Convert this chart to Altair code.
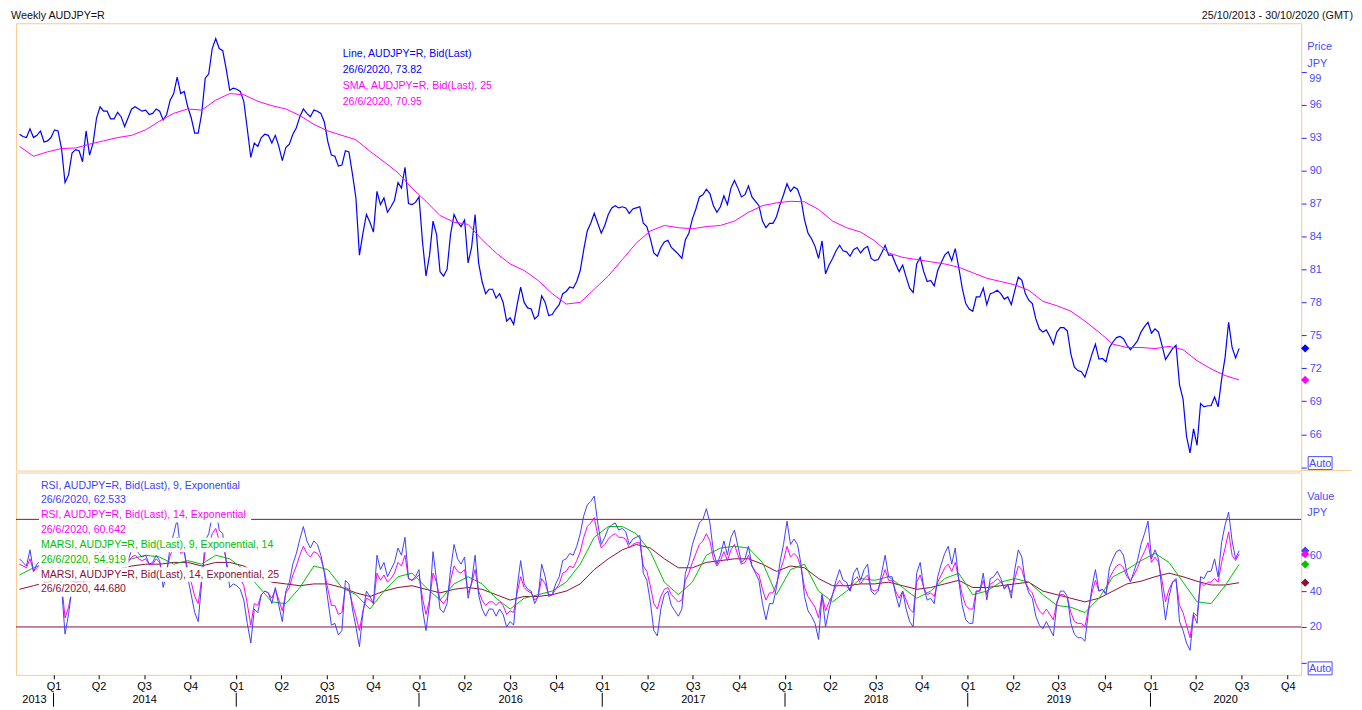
import altair as alt
import pandas as pd

FIRST_WEEK = "2013-10-25"

# weekly close, AUDJPY=R
PRICE = [
    93.3, 93.1, 93.0, 93.8, 93.0, 93.2, 93.6, 92.6, 92.7, 93.0, 93.7, 93.6, 92.0,
    88.9, 89.6, 91.6, 91.9, 91.8, 90.8, 93.6, 91.4, 92.5, 94.8, 95.8, 95.4, 95.4,
    94.7, 94.7, 95.3, 94.9, 94.0, 94.8, 95.6, 95.8, 95.6, 95.4, 95.5, 95.1, 95.2,
    95.6, 95.4, 94.6, 95.1, 96.4, 97.0, 98.5, 97.0, 97.2, 95.8, 94.8, 93.4, 93.4,
    95.2, 98.4, 98.8, 101.1, 102.0, 101.1, 100.9, 99.2, 97.3, 97.5, 97.4, 97.2,
    96.3, 93.8, 91.2, 92.5, 92.2, 93.0, 93.3, 93.2, 92.5, 93.2, 92.2, 90.9, 92.1,
    92.4, 93.3, 93.9, 94.9, 95.6, 95.2, 94.9, 95.5, 95.4, 95.2, 94.4, 92.6, 91.4,
    91.3, 90.4, 90.5, 91.8, 91.7, 89.7, 87.5, 82.3, 84.3, 86.0, 85.3, 84.4, 88.1,
    86.9, 87.5, 86.2, 86.7, 87.3, 88.9, 88.4, 90.3, 87.0, 86.9, 87.1, 87.6, 83.5,
    80.4, 82.3, 85.4, 84.2, 80.8, 80.4, 81.0, 84.2, 86.0, 85.3, 84.9, 85.5, 81.6,
    83.0, 86.0, 81.6, 79.9, 78.8, 79.2, 79.2, 78.4, 78.8, 78.0, 76.3, 76.6, 76.0,
    77.8, 79.4, 78.0, 77.5, 77.4, 76.5, 76.8, 78.6, 78.0, 76.8, 76.9, 77.4, 77.8,
    78.8, 79.0, 79.4, 79.3, 79.9, 80.9, 82.8, 84.5, 85.2, 86.1, 85.2, 84.3, 85.0,
    86.0, 86.6, 86.8, 86.6, 86.7, 86.6, 86.1, 86.5, 86.6, 86.7, 85.2, 84.9, 83.8,
    82.5, 82.2, 83.0, 83.5, 83.65, 83.0, 82.7, 82.4, 82.0, 83.7, 84.3, 85.6, 86.5,
    87.6, 87.8, 88.3, 87.9, 86.8, 86.2, 86.7, 87.7, 86.9, 88.4, 89.1, 88.4, 87.6,
    87.8, 88.6, 87.6, 87.2, 86.8, 85.4, 84.8, 85.2, 85.2, 85.8, 86.9, 87.8, 88.8,
    88.1, 88.5, 88.3, 87.4, 85.5, 84.3, 83.8, 83.1, 82.0, 83.6, 80.6, 81.4, 82.0,
    82.7, 83.2, 82.7, 82.6, 82.2, 82.8, 83.0, 82.5, 82.9, 83.1, 82.0, 81.8, 81.9,
    82.5, 83.2, 82.3, 82.3, 81.5, 80.8, 81.4, 80.3, 79.3, 78.9, 81.5, 82.1, 80.8,
    79.9, 80.0, 79.5, 80.9, 81.6, 82.3, 82.6, 81.8, 82.9, 81.2, 79.3, 77.9, 77.4,
    77.2, 78.5, 78.5, 79.3, 77.8, 78.8, 78.9, 79.1, 78.8, 78.3, 78.5, 77.8, 79.1,
    80.3, 80.0, 78.8, 78.2, 77.9, 76.5, 75.6, 75.3, 75.5, 74.9, 74.2, 75.3, 75.7,
    75.7, 75.4, 73.3, 72.1, 71.8, 71.7, 71.2, 72.2, 73.3, 74.2, 72.85, 72.9, 72.6,
    73.9, 74.4, 74.8, 74.9, 74.7, 74.1, 73.7, 74.1, 74.5, 75.3, 75.8, 76.2, 75.2,
    75.6, 75.3, 74.1, 72.8, 73.3, 73.8, 74.1, 70.5, 69.2, 65.8, 64.3, 66.5, 65.0,
    68.8, 68.5, 68.6, 68.6, 69.4, 68.5, 71.0, 73.0, 76.2, 73.9, 72.95, 73.82,
]

# 25-week SMA, read every 4th week
SMA25 = [
    92.2, 91.3, 91.7, 92.0, 92.05, 92.4, 92.7, 93.0, 93.2, 93.7, 94.5, 95.2, 95.6,
    95.5, 96.4, 97.0, 96.9, 96.3, 95.9, 95.6, 95.0, 94.2, 93.6, 93.2, 92.8, 91.75,
    90.8, 89.8, 88.4, 87.2, 85.9, 85.3, 85.1, 83.7, 82.5, 81.5, 80.9, 80.0, 78.8,
    77.85, 78.0, 79.2, 80.4, 81.9, 83.4, 84.5, 85.0, 84.8, 84.7, 84.9, 85.0, 85.4,
    86.2, 86.8, 87.06, 87.2, 87.15, 86.46, 85.4, 84.8, 84.4, 83.6, 82.5, 82.1, 81.9,
    81.7, 81.5, 81.2, 80.7, 80.2, 79.9, 79.6, 79.1, 78.1, 77.7, 77.2, 76.3, 75.3,
    74.2, 73.9, 73.9, 73.8, 74.0, 73.7, 72.7, 71.95, 71.35, 70.95,
]

# RSI 9 (weekly)
RSI9 = [
    58, 56, 54, 63, 51, 55, 57, 45, 47, 51, 60, 58, 42,
    16, 27, 42, 45, 44, 38, 58, 45, 52, 64, 68, 64, 64,
    57, 57, 62, 58, 49, 57, 63, 64, 61, 59, 60, 55, 56,
    60, 57, 42, 50, 65, 72, 80, 62, 63, 48, 38, 28, 23,
    45, 68, 72, 82, 86, 74, 72, 56, 42, 44, 43, 41, 35,
    22, 11, 30, 28, 38, 40, 39, 33, 42, 32, 23, 40, 45,
    55, 61, 69, 76, 68, 64, 68, 66, 60, 50, 35, 21, 22,
    15.5, 18, 46, 44, 30, 20, 9, 28, 40, 37, 33, 60, 52,
    56, 48, 52, 56, 64, 60, 70, 47, 46, 48, 52, 30, 18,
    33, 62, 46, 30, 28, 33, 52, 66, 58, 55, 59, 36, 45,
    60, 38, 30, 26, 30, 30, 26, 30, 27, 20, 23, 21, 42,
    57, 44, 41, 40, 33, 37, 55, 48, 37, 38, 44, 48, 57,
    58, 61, 60, 65, 72, 82, 88, 90, 93, 78, 66, 70, 75,
    77, 78, 74, 75, 73, 66, 69, 70, 71, 50, 46, 34, 18,
    15, 30, 38, 40, 32, 29, 26, 30, 50, 56, 66, 72, 78,
    80, 86, 78, 62, 55, 60, 68, 60, 70, 74, 65, 56, 58,
    65, 54, 50, 46, 33, 24, 33, 33, 42, 56, 66, 79, 66,
    69, 66, 55, 37, 29, 26, 22, 13, 38, 20, 30, 38, 46,
    52, 46, 45, 40, 50, 53, 46, 52, 55, 40, 38, 40, 50,
    60, 48, 48, 38, 31, 40, 30, 23, 20, 50, 56, 42, 35,
    36, 33, 48, 55, 61, 65, 55, 64, 46, 32, 24, 22, 22,
    40, 40, 50, 35, 47, 48, 51, 47, 41, 44, 36, 52, 63,
    59, 45, 39, 36, 26, 21, 19, 23, 19, 15, 33, 40, 40,
    37, 22, 16, 14, 14, 12, 28, 42, 52, 40, 41, 38, 53,
    58, 62, 63, 60, 50, 45, 51, 57, 66, 72, 79, 58, 63,
    58, 40, 24, 37, 45, 47, 23, 18, 11, 7, 27, 22, 48,
    47, 51, 51, 58, 48, 67, 77, 84, 68, 58, 62.533,
]

# RSI 14 (weekly)
RSI14 = [
    55, 54, 53, 58, 51, 53, 55, 47, 48, 50, 56, 55, 45,
    25, 31, 41, 43, 43, 39, 52, 45, 49, 58, 62, 60, 60,
    56, 56, 59, 57, 52, 56, 59, 60, 58, 57, 58, 55, 55,
    58, 56, 48, 52, 60, 64, 70, 61, 62, 52, 45, 37, 33,
    47, 62, 65, 72, 75, 68, 67, 57, 48, 49, 48, 47, 43,
    33, 21, 33, 32, 38, 40, 39, 36, 41, 35, 29, 39, 42,
    49, 54, 60, 65, 61, 59, 62, 61, 58, 51, 41, 32, 32,
    27, 28, 42, 41, 33, 26, 18, 29, 36, 35, 33, 50, 46,
    49, 45, 47, 50, 56, 54, 60, 47, 46, 47, 49, 36, 27,
    35, 50, 45, 35, 33, 36, 46, 54, 51, 50, 52, 39, 44,
    52, 40, 35, 32, 34, 34, 32, 34, 32, 27, 29, 28, 39,
    48, 42, 40, 39, 35, 37, 47, 44, 38, 38, 41, 44, 50,
    51, 54, 53, 57, 62, 70, 76, 78, 81, 71, 64, 66, 69,
    71, 72, 70, 70, 69, 64, 66, 67, 67, 54, 51, 43, 33,
    30, 37, 41, 42, 38, 36, 34, 35, 46, 50, 56, 61, 66,
    68, 72, 68, 58, 54, 57, 62, 57, 63, 66, 60, 55, 56,
    60, 54, 51, 49, 41, 35, 39, 39, 44, 51, 57, 65, 59,
    61, 59, 53, 42, 37, 34, 31, 25, 38, 29, 34, 38, 43,
    46, 43, 43, 40, 46, 48, 44, 47, 49, 41, 40, 41, 46,
    52, 46, 46, 40, 36, 40, 35, 30, 28, 45, 49, 42, 38,
    39, 37, 45, 49, 53, 55, 51, 56, 47, 38, 32, 30, 30,
    40, 40, 46, 38, 44, 45, 47, 45, 42, 43, 39, 47, 54,
    52, 45, 41, 39, 33, 29, 27, 30, 27, 24, 34, 38, 38,
    36, 28, 23, 22, 22, 20, 30, 39, 46, 40, 41, 39, 47,
    51, 54, 55, 53, 48, 46, 49, 53, 58, 62, 67, 56, 59,
    56, 46, 34, 41, 45, 46, 32, 28, 21, 14, 28, 26, 45,
    43, 45, 45, 47, 45, 56, 64, 73, 60, 57, 60.642,
]

# MA of RSI 9 (14) and MA of RSI 14 (25), read every 4th week
MARSI9 = [
    49, 53, 56, 54, 45, 46, 52, 56, 58, 60,
    59, 55, 57, 55, 60, 58, 52, 43, 34, 33,
    42, 54, 52, 42, 38, 30, 40, 48, 50, 42,
    35, 44, 48, 44, 36, 30, 36, 38, 40, 45,
    55, 70, 76, 76, 72, 62, 45, 38, 45, 60,
    64, 65, 64, 56, 38, 52, 55, 40, 34, 40,
    47, 46, 48, 42, 36, 40, 47, 50, 38, 40,
    45, 47, 45, 38, 32, 31, 28, 36, 48, 52,
    57, 61, 56, 45, 34, 33, 43, 54.919,
]
MARSI14 = [
    41, 43, 45, 47, 45, 46, 49, 52, 54, 55,
    55, 56, 56, 54, 56, 56, 54, 50, 45, 44,
    43, 44, 44, 42, 39, 37, 40, 42, 43, 41,
    39, 41, 42, 41, 38, 35, 37, 37, 38, 40,
    44, 52, 58, 63, 66, 64, 58, 53, 53, 56,
    57, 58, 58, 55, 51, 54, 53, 47, 43, 43,
    44, 44, 45, 43, 41, 42, 44, 46, 42, 42,
    43, 44, 45, 40, 38, 36, 34, 36, 40, 44,
    45.5, 48, 50, 48, 45.5, 43.4, 43.4, 44.68,
]

LAST = {"price": 73.82, "sma": 70.95, "rsi9": 62.533, "rsi14": 60.642,
        "marsi9": 54.919, "marsi14": 44.680}

QUARTER_STARTS = [f"{y}-{m:02d}-01" for y in range(2014, 2021) for m in (1, 4, 7, 10)]
YEAR_LABELS = ["2013", "2014", "2015", "2016", "2017", "2018", "2019", "2020"]
YEAR_LABEL_AT = ["2013-11-24", "2014-07-02", "2015-07-02", "2016-07-02",
                 "2017-07-02", "2018-07-02", "2019-07-02", "2020-05-30"]
YEAR_STARTS = [f"{y}-01-01" for y in range(2014, 2021)]
PRICE_TICKS = list(range(63, 100, 3))
RSI_TICKS = [0, 20, 40, 60]
RSI_LEVELS = [20, 80]

# ---------------------------------------------------------------- styling
W, H1, H2 = 1290, 449, 203
FONT = "Liberation Sans"
FS = 10.6
ORANGE = "#fac98f"
AXBLUE = "#4b4bff"
C_PRICE, C_SMA = "#0000ff", "#ff00ff"
C_R9, C_R14, C_M9, C_M14 = "#4040ff", "#ff00ff", "#00c000", "#8b1038"
C_LEVEL = "#82143c"


def ms(s):
    return int(pd.Timestamp(s, tz="UTC").value // 10**6)


weeks = [ms(d) for d in pd.date_range(FIRST_WEEK, periods=len(PRICE), freq="7D").strftime("%Y-%m-%d")]
w4 = weeks[::4]
price_df = pd.DataFrame({"t": weeks, "v": PRICE})
sma_df = pd.DataFrame({"t": w4[: len(SMA25)], "v": SMA25[: len(w4)]})
rsi_df = pd.DataFrame({"t": weeks[: len(RSI9)], "r9": RSI9[: len(weeks)], "r14": RSI14[: len(weeks)]})
ma_df = pd.DataFrame({"t": w4[: len(MARSI9)], "m9": MARSI9[: len(w4)], "m14": MARSI14[: len(w4)]})

xscale = alt.Scale(type="utc", domain=[ms("2013-10-18"), ms("2020-10-28")])
one = alt.Data(values=[{}])


def text(x, y, s, color, align="left", size=FS):
    return alt.Chart(one).mark_text(align=align, baseline="middle", font=FONT,
                                    fontSize=size, color=color).encode(
        x=alt.value(x), y=alt.value(y), text=alt.value(s))


def box(x, x2, y, y2, fill="white", stroke=None):
    kw = dict(fill=fill)
    if stroke:
        kw.update(stroke=stroke, strokeWidth=1)
    return alt.Chart(one).mark_rect(**kw).encode(
        x=alt.value(x), x2=alt.value(x2), y=alt.value(y), y2=alt.value(y2))


# ---------------------------------------------------------------- price panel
xP = alt.X("t:T", scale=xscale, axis=None)
yP = alt.Y("v:Q", scale=alt.Scale(domain=[62.7, 103.4], nice=False, zero=False),
           axis=alt.Axis(orient="right", values=PRICE_TICKS,
                         labelExpr="(datum.value == 63 || datum.value == 99) ? '' : datum.label",
                         tickColor="#2a2aff", tickSize=5, labelColor=AXBLUE, labelFont=FONT,
                         labelFontSize=11, labelPadding=3, domain=False, grid=False, title=None))

price_line = alt.Chart(price_df).mark_line(color=C_PRICE, strokeWidth=1.2).encode(x=xP, y=yP)
sma_line = alt.Chart(sma_df).mark_line(color=C_SMA, strokeWidth=1).encode(x=xP, y=yP)
price_marks = alt.Chart(pd.DataFrame({"v": [LAST["price"], LAST["sma"]], "c": [C_PRICE, C_SMA]})).mark_point(
    shape="diamond", filled=True, size=70, opacity=1).encode(
    x=alt.value(W + 4), y=yP, color=alt.Color("c:N", scale=None))

price_layers = [price_line, sma_line, price_marks,
                text(-5, -7, "Weekly AUDJPY=R", "#111111", size=10.8),
                text(W + 52, -7, "25/10/2013 - 30/10/2020 (GMT)", "#111111", align="right", size=10.8),
                text(328, 31, "Line, AUDJPY=R, Bid(Last)", C_PRICE),
                text(328, 47, "26/6/2020, 73.82", C_PRICE),
                text(328, 63, "SMA, AUDJPY=R, Bid(Last),  25", C_SMA),
                text(328, 79, "26/6/2020, 70.95", C_SMA),
                text(W + 6, 24, "Price", AXBLUE, size=11),
                text(W + 6, 41, "JPY", AXBLUE, size=11),
                text(W + 8, 56, "99", AXBLUE, size=11),
                box(W + 7, W + 31, 435, 448, fill="white", stroke=AXBLUE),
                text(W + 19, 442, "Auto", AXBLUE, align="center", size=11),
                alt.Chart(one).mark_rule(color=ORANGE).encode(
                    x=alt.value(W), x2=alt.value(W + 50), y=alt.value(H1)),
                ]
price_panel = alt.layer(*price_layers).properties(width=W, height=H1)

# ---------------------------------------------------------------- oscillator panel
xR = alt.X("t:T", scale=xscale,
           axis=alt.Axis(orient="bottom", values=[ms(d) for d in QUARTER_STARTS],
                         labelExpr="'Q' + (floor(utcmonth(datum.value) / 3) + 1)",
                         tickColor="#000000", tickSize=4, labelColor="#000000", labelFont=FONT,
                         labelFontSize=11, labelPadding=2, domain=False, grid=False, title=None,
                         labelFlush=False, labelOverlap=False))
yR_scale = alt.Scale(domain=[-6.7, 106.1], nice=False, zero=False)
yR_axis = alt.Axis(orient="right", values=RSI_TICKS,
                   labelExpr="datum.value == 0 ? '' : datum.label",
                   tickColor="#2a2aff", tickSize=5, labelColor=AXBLUE, labelFont=FONT,
                   labelFontSize=11, labelPadding=3, domain=False, grid=False, title=None)


def yR(field):
    return alt.Y(field, scale=yR_scale, axis=yR_axis)


levels = alt.Chart(pd.DataFrame({"v": RSI_LEVELS})).mark_rule(color=C_LEVEL, strokeWidth=1).encode(y=yR("v:Q"))
l_m14 = alt.Chart(ma_df).mark_line(color=C_M14, strokeWidth=1).encode(x=xR, y=yR("m14:Q"))
l_m9 = alt.Chart(ma_df).mark_line(color=C_M9, strokeWidth=1).encode(x=xR, y=yR("m9:Q"))
l_r14 = alt.Chart(rsi_df).mark_line(color=C_R14, strokeWidth=1).encode(x=xR, y=yR("r14:Q"))
l_r9 = alt.Chart(rsi_df).mark_line(color=C_R9, strokeWidth=1).encode(x=xR, y=yR("r9:Q"))
osc_marks = alt.Chart(pd.DataFrame({
    "v": [LAST["rsi9"], LAST["rsi14"], LAST["marsi9"], LAST["marsi14"]],
    "c": [C_R9, C_R14, C_M9, C_M14]})).mark_point(
    shape="diamond", filled=True, size=70, opacity=1).encode(
    x=alt.value(W + 4), y=yR("v:Q"), color=alt.Color("c:N", scale=None))

legend_rows = [
    ("RSI, AUDJPY=R, Bid(Last),  9, Exponential", C_R9, 230),
    ("26/6/2020, 62.533", C_R9, 113),
    ("RSI, AUDJPY=R, Bid(Last),  14, Exponential", C_R14, 236),
    ("26/6/2020, 60.642", C_R14, 113),
    ("MARSI, AUDJPY=R, Bid(Last),  9, Exponential, 14", C_M9, 263),
    ("26/6/2020, 54.919", C_M9, 113),
    ("MARSI, AUDJPY=R, Bid(Last),  14, Exponential, 25", C_M14, 269),
    ("26/6/2020, 44.680", C_M14, 113),
]
legend_layers = []
for k, (s, c, x2) in enumerate(legend_rows):
    yc = 13 + 14.9 * k
    legend_layers.append(box(23, x2, yc - 7.3, yc + 7.3))
for k, (s, c, x2) in enumerate(legend_rows):
    yc = 13 + 14.9 * k
    legend_layers.append(text(25, yc, s, c))

year_df = pd.DataFrame({"t": [ms(d) for d in YEAR_LABEL_AT], "s": YEAR_LABELS})
years = alt.Chart(year_df).mark_text(font=FONT, fontSize=11, color="#000000", baseline="middle").encode(
    x=xR, y=alt.value(H2 + 25), text="s:N")
seps = alt.Chart(pd.DataFrame({"t": [ms(d) for d in YEAR_STARTS]})).mark_rule(color="#000000").encode(
    x=xR, y=alt.value(H2 + 18), y2=alt.value(H2 + 32))

osc_layers = [levels, l_m14, l_m9, l_r14, l_r9, osc_marks] + legend_layers + [
    years, seps,
    text(W + 6, 25, "Value", AXBLUE, size=11),
    text(W + 6, 41, "JPY", AXBLUE, size=11),
    box(W + 7, W + 31, 190, 203, fill="white", stroke=AXBLUE),
    text(W + 19, 197, "Auto", AXBLUE, align="center", size=11),
    alt.Chart(one).mark_rule(color="white").encode(x=alt.value(-5), x2=alt.value(-4), y=alt.value(100)),
]
osc_panel = alt.layer(*osc_layers).properties(width=W, height=H2)

chart = (
    alt.vconcat(price_panel, osc_panel, spacing=0)
    .resolve_scale(x="independent", y="independent")
    .properties(padding={"left": 2, "top": 0, "right": 0, "bottom": 0}, background="white")
    .configure_view(stroke=ORANGE, strokeWidth=1)
)

chart.save("out.html", embed_options={"renderer": "svg", "actions": False})
